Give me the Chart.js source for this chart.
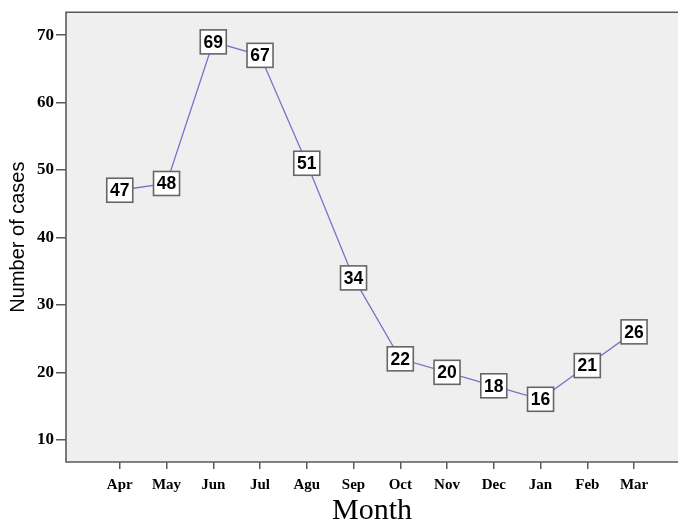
<!DOCTYPE html>
<html>
<head>
<meta charset="utf-8">
<script src="https://cdn.jsdelivr.net/npm/chart.js@4.4.0/dist/chart.umd.min.js"></script>
<style>
  html, body { margin: 0; padding: 0; background: #fff; }
  #wrap { width: 678px; height: 522px; }
</style>
</head>
<body>
<div id="wrap"><canvas id="casesChart"></canvas></div>
<script>
// data
const months = ["Apr", "May", "Jun", "Jul", "Agu", "Sep", "Oct", "Nov", "Dec", "Jan", "Feb", "Mar"];
const cases = [47, 48, 69, 67, 51, 34, 22, 20, 18, 16, 21, 26];
const yTicks = [10, 20, 30, 40, 50, 60, 70];

// grey plot area, borders on left/top/bottom and the boxed value labels
const plotFrame = {
  id: "plotFrame",
  beforeDraw(chart) {
    const { ctx, chartArea: a } = chart;
    ctx.save();
    ctx.fillStyle = "#eeefee";
    ctx.fillRect(a.left, a.top, a.right - a.left, a.bottom - a.top);
    ctx.strokeStyle = "#5a5a5a";
    ctx.lineWidth = 1.6;
    ctx.beginPath();
    ctx.moveTo(a.right + 2, a.top);
    ctx.lineTo(a.left, a.top);
    ctx.lineTo(a.left, a.bottom);
    ctx.lineTo(a.right + 2, a.bottom);
    ctx.stroke();
    ctx.restore();
  },
  afterDatasetsDraw(chart) {
    const { ctx } = chart;
    const meta = chart.getDatasetMeta(0);
    ctx.save();
    ctx.font = "bold 17.5px 'Liberation Sans', Arial, sans-serif";
    ctx.textAlign = "center";
    ctx.textBaseline = "middle";
    meta.data.forEach((pt, i) => {
      const w = 26, h = 24;
      ctx.fillStyle = "#ffffff";
      ctx.fillRect(pt.x - w / 2, pt.y - h / 2, w, h);
      ctx.strokeStyle = "#666";
      ctx.lineWidth = 1.6;
      ctx.strokeRect(pt.x - w / 2, pt.y - h / 2, w, h);
      ctx.fillStyle = "#000";
      ctx.fillText(String(cases[i]), pt.x, pt.y + 1);
    });
    ctx.restore();
  }
};

new Chart(document.getElementById("casesChart"), {
  type: "line",
  data: {
    datasets: [{
      data: cases.map((v, i) => ({ x: i, y: v })),
      borderColor: "#7474c8",
      borderWidth: 1.3,
      pointRadius: 0,
      tension: 0
    }]
  },
  options: {
    responsive: true,
    maintainAspectRatio: false,
    animation: false,
    layout: { padding: { top: 12, right: 0, left: 0, bottom: 0 } },
    plugins: { legend: { display: false }, tooltip: { enabled: false } },
    scales: {
      x: {
        type: "linear",
        min: -1.15,
        max: 11.94,
        afterBuildTicks: s => { s.ticks = months.map((m, i) => ({ value: i })); },
        afterFit: s => { s.height = 60; },
        ticks: {
          autoSkip: false,
          maxRotation: 0,
          padding: 7,
          color: "#000",
          font: { family: "'Liberation Serif', 'Times New Roman', serif", size: 15, weight: "bold" },
          callback: v => months[v]
        },
        grid: { drawOnChartArea: false, drawTicks: true, tickLength: 7, color: "#5a5a5a", lineWidth: 1.5 },
        border: { display: false },
        title: {
          display: true,
          text: "Month",
          color: "#000",
          padding: { top: 0, bottom: 0 },
          font: { family: "'Liberation Serif', 'Times New Roman', serif", size: 30, lineHeight: 0.75 }
        }
      },
      y: {
        min: 6.7,
        max: 73.4,
        afterBuildTicks: s => { s.ticks = yTicks.map(v => ({ value: v })); },
        afterFit: s => { s.width = 66; },
        ticks: {
          padding: 2,
          color: "#000",
          font: { family: "'Liberation Serif', 'Times New Roman', serif", size: 17, weight: "bold" }
        },
        grid: { drawOnChartArea: false, drawTicks: true, tickLength: 10, color: "#5a5a5a", lineWidth: 1.5 },
        border: { display: false },
        title: {
          display: true,
          text: "Number of cases",
          color: "#000",
          padding: { top: 6, bottom: 0 },
          font: { family: "'Liberation Sans', Arial, sans-serif", size: 20 }
        }
      }
    }
  },
  plugins: [plotFrame]
});
</script>
</body>
</html>
